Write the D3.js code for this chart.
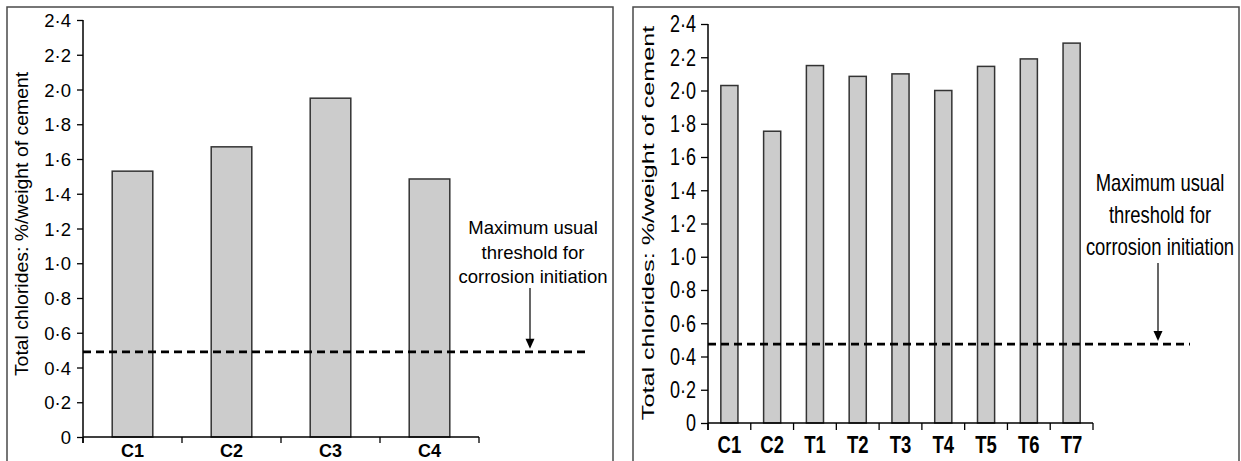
<!DOCTYPE html>
<html>
<head>
<meta charset="utf-8">
<script src="https://cdn.jsdelivr.net/npm/d3@7"></script>
<style>
  html, body { margin: 0; padding: 0; background: #fff; }
  svg { display: block; font-family: "Liberation Sans", Arial, sans-serif; }
</style>
</head>
<body>
<svg id="chart" width="1241" height="461"></svg>
<script>
// ---------------- DATA ----------------
const leftCategories = ["C1", "C2", "C3", "C4"];
const leftValues = [1.53, 1.67, 1.95, 1.485];
const leftThreshold = 0.49;

const rightCategories = ["C1", "C2", "T1", "T2", "T3", "T4", "T5", "T6", "T7"];
const rightValues = [2.03, 1.755, 2.15, 2.085, 2.10, 2.0, 2.145, 2.19, 2.285];
const rightThreshold = 0.475;

const yTickValues = [0, 0.2, 0.4, 0.6, 0.8, 1.0, 1.2, 1.4, 1.6, 1.8, 2.0, 2.2, 2.4];
const yTickLabels = ["0", "0·2", "0·4", "0·6", "0·8", "1·0", "1·2", "1·4", "1·6", "1·8", "2·0", "2·2", "2·4"];
const yLabel = "Total chlorides: %/weight of cement";
const annotationLines = ["Maximum usual", "threshold for", "corrosion initiation"];

// ---------------- DRAW ----------------
const svg = d3.select("#chart");

function drawPanel(cfg) {
  const g = svg.append("g");
  g.append("rect")
    .attr("x", cfg.frame[0]).attr("y", cfg.frame[1])
    .attr("width", cfg.frame[2]).attr("height", cfg.frame[3])
    .attr("fill", "none").attr("stroke", "#4a4a4a").attr("stroke-width", 1.5);

  const x = d3.scaleBand().domain(cfg.categories).range([cfg.x0, cfg.x1]).padding(0);
  const y = d3.scaleLinear().domain([0, 2.4]).range([cfg.y0, cfg.y1]);
  const bw = x.bandwidth();

  g.selectAll("rect.bar").data(cfg.values).enter().append("rect")
    .attr("class", "bar")
    .attr("x", (d, i) => x(cfg.categories[i]) + bw * (1 - cfg.barFrac) / 2)
    .attr("width", bw * cfg.barFrac)
    .attr("y", d => y(d))
    .attr("height", d => y(0) - y(d))
    .attr("fill", "#cccccc").attr("stroke", "#333").attr("stroke-width", 1.5);

  const yAxis = d3.axisLeft(y).tickValues(yTickValues)
    .tickFormat((d, i) => yTickLabels[i])
    .tickSize(cfg.tickSize).tickPadding(cfg.tickPad).tickSizeOuter(0);
  const ya = g.append("g").attr("transform", `translate(${cfg.x0},0)`).call(yAxis);
  ya.attr("font-family", null).attr("font-size", null);
  ya.select(".domain").remove();
  ya.selectAll(".tick line").attr("stroke", "#000").attr("stroke-width", 1.3);
  ya.selectAll(".tick text")
    .attr("font-size", cfg.tickFont).attr("fill", "#000")
    .attr("dy", null).attr("dominant-baseline", "central")
    .attr("transform", `scale(1, ${cfg.stretch})`);

  g.append("line").attr("x1", cfg.x0).attr("x2", cfg.x0)
    .attr("y1", y(2.4)).attr("y2", y(0) + cfg.xTick)
    .attr("stroke", "#000").attr("stroke-width", 1.5);
  g.append("line").attr("x1", cfg.x0).attr("x2", cfg.x1)
    .attr("y1", y(0)).attr("y2", y(0))
    .attr("stroke", "#000").attr("stroke-width", 1.5);
  const bounds = cfg.categories.map(c => x(c)).concat([cfg.x1]);
  g.selectAll("line.xt").data(bounds).enter().append("line")
    .attr("x1", d => d).attr("x2", d => d)
    .attr("y1", y(0)).attr("y2", y(0) + cfg.xTick)
    .attr("stroke", "#000").attr("stroke-width", 1.3);

  g.selectAll("text.xl").data(cfg.categories).enter().append("text")
    .attr("transform", d => `translate(${x(d) + bw / 2},${cfg.xLabelBase}) scale(1, ${cfg.xStretch})`)
    .attr("text-anchor", "middle")
    .attr("font-size", cfg.xFont).attr("font-weight", "bold").attr("fill", "#000")
    .text(d => d);

  g.append("text")
    .attr("transform", `translate(${cfg.yLabelX},${cfg.yLabelY}) rotate(-90) scale(${cfg.yLabelStretch},1)`)
    .attr("text-anchor", "middle").attr("dominant-baseline", "central")
    .attr("font-size", cfg.yLabelFont).attr("fill", "#000")
    .text(yLabel);

  g.append("line")
    .attr("x1", cfg.x0).attr("x2", cfg.dashEnd)
    .attr("y1", y(cfg.threshold)).attr("y2", y(cfg.threshold))
    .attr("stroke", "#000").attr("stroke-width", 2.8)
    .attr("stroke-dasharray", "8,5");

  annotationLines.forEach((t, i) => {
    g.append("text")
      .attr("transform", `translate(${cfg.annX},${cfg.annY[i]}) scale(1, ${cfg.annStretch})`)
      .attr("text-anchor", "middle").attr("dominant-baseline", "central")
      .attr("font-size", cfg.annFont).attr("fill", "#000")
      .text(t);
  });

  const tipY = y(cfg.threshold) - 3;
  g.append("line")
    .attr("x1", cfg.arrowX).attr("x2", cfg.arrowX)
    .attr("y1", cfg.arrowTop).attr("y2", tipY - 8)
    .attr("stroke", "#000").attr("stroke-width", 1.2);
  g.append("path")
    .attr("d", `M${cfg.arrowX - 4.5},${tipY - 10} L${cfg.arrowX + 4.5},${tipY - 10} L${cfg.arrowX},${tipY} Z`)
    .attr("fill", "#000");
}

drawPanel({
  frame: [7, 7, 606, 470],
  categories: leftCategories, values: leftValues, threshold: leftThreshold,
  x0: 83, x1: 479, y0: 437, y1: 20, barFrac: 0.41,
  tickSize: 6, tickPad: 6, tickFont: 18.5, stretch: 1,
  xTick: 6, xLabelBase: 457, xFont: 18, xStretch: 1,
  yLabelX: 22, yLabelY: 224, yLabelFont: 18.5, yLabelStretch: 1.05,
  dashEnd: 587,
  annX: 533, annY: [227, 252, 276], annFont: 18.5, annStretch: 1,
  arrowX: 530, arrowTop: 288
});

drawPanel({
  frame: [633, 7, 606, 470],
  categories: rightCategories, values: rightValues, threshold: rightThreshold,
  x0: 708, x1: 1093, y0: 423, y1: 24, barFrac: 0.4,
  tickSize: 7, tickPad: 5, tickFont: 18, stretch: 1.35,
  xTick: 7, xLabelBase: 453, xFont: 18.5, xStretch: 1.3,
  yLabelX: 648, yLabelY: 223, yLabelFont: 17, yLabelStretch: 1.48,
  dashEnd: 1190,
  annX: 1160, annY: [183, 215, 247], annFont: 18.4, annStretch: 1.25,
  arrowX: 1158, arrowTop: 263
});
</script>
</body>
</html>
